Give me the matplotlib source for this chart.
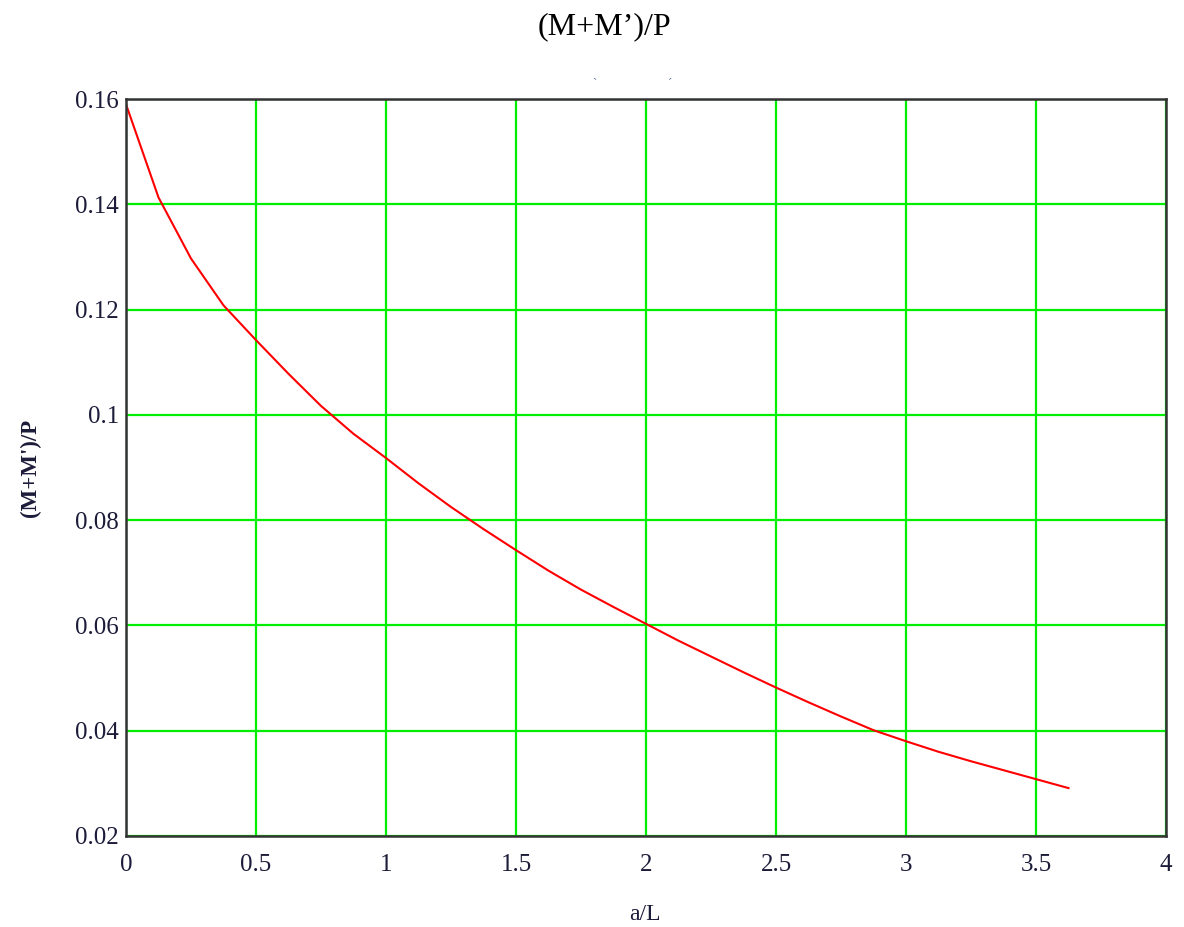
import matplotlib
matplotlib.use("Agg")
import matplotlib.pyplot as plt

# Data
a_over_L = [0.0, 0.125, 0.25, 0.375, 0.5, 0.625, 0.75, 0.875, 1.0, 1.125,
            1.25, 1.375, 1.5, 1.625, 1.75, 1.875, 2.0, 2.125, 2.25, 2.375,
            2.5, 2.625, 2.75, 2.875, 3.0, 3.125, 3.25, 3.375, 3.5, 3.625]
ratio = [0.1590, 0.1413, 0.1297, 0.1208, 0.1142, 0.1078, 0.1017, 0.0964,
         0.0918, 0.0870, 0.0825, 0.0783, 0.0743, 0.0704, 0.0668, 0.0635,
         0.0603, 0.0571, 0.0541, 0.0511, 0.0482, 0.0454, 0.0427, 0.0401,
         0.0380, 0.0360, 0.0342, 0.0325, 0.0308, 0.0291]
x_ticks = [0, 0.5, 1, 1.5, 2, 2.5, 3, 3.5, 4]
x_tick_labels = ["0", "0.5", "1", "1.5", "2", "2.5", "3", "3.5", "4"]
y_ticks = [0.02, 0.04, 0.06, 0.08, 0.1, 0.12, 0.14, 0.16]
y_tick_labels = ["0.02", "0.04", "0.06", "0.08", "0.1", "0.12", "0.14", "0.16"]

plt.rcParams['font.family'] = ['Liberation Serif', 'DejaVu Serif']
W, H = 1184, 927
fig = plt.figure(figsize=(W / 100, H / 100), dpi=100)
ax = fig.add_axes([126 / W, 1 - 836 / H, (1166 - 126) / W, (836 - 99) / H])

ax.plot(a_over_L, ratio, color='#ff0000', linewidth=1.5, zorder=3)

ax.set_xlim(0, 4)
ax.set_ylim(0.02, 0.16)
ax.set_xticks(x_ticks)
ax.set_xticklabels(x_tick_labels)
ax.set_yticks(y_ticks)
ax.set_yticklabels(y_tick_labels)
ax.grid(True, color='#00ee00', linewidth=1.6, zorder=1)
ax.set_axisbelow(True)
ax.tick_params(axis='both', length=0, labelsize=18, labelcolor='#1c1c3a')
ax.tick_params(axis='x', pad=13)
ax.tick_params(axis='y', pad=5)
for s in ax.spines.values():
    s.set_color('#333333')
    s.set_linewidth(1.8)
    s.set_zorder(4)

fig.text(604 / W, 1 - 27 / H, "(M+M\u2019)/P", ha='center', va='center',
         fontsize=23, color='black')
fig.text(30 / W, 1 - 468 / H, "(M+M')/P", ha='center', va='center',
         rotation=90, fontsize=16.5, fontweight='bold', color='#1c1c3a')
fig.text(645 / W, 1 - 925 / H, "a/L", ha='center', va='bottom',
         fontsize=17, color='#1c1c3a')
fig.text(594 / W, 1 - 84 / H, "`", ha='center', va='center', fontsize=9,
         color='#5a6a9a')
fig.text(670 / W, 1 - 84 / H, "\u00b4", ha='center', va='center', fontsize=9,
         color='#5a6a9a')

fig.savefig("out.png", dpi=100)
